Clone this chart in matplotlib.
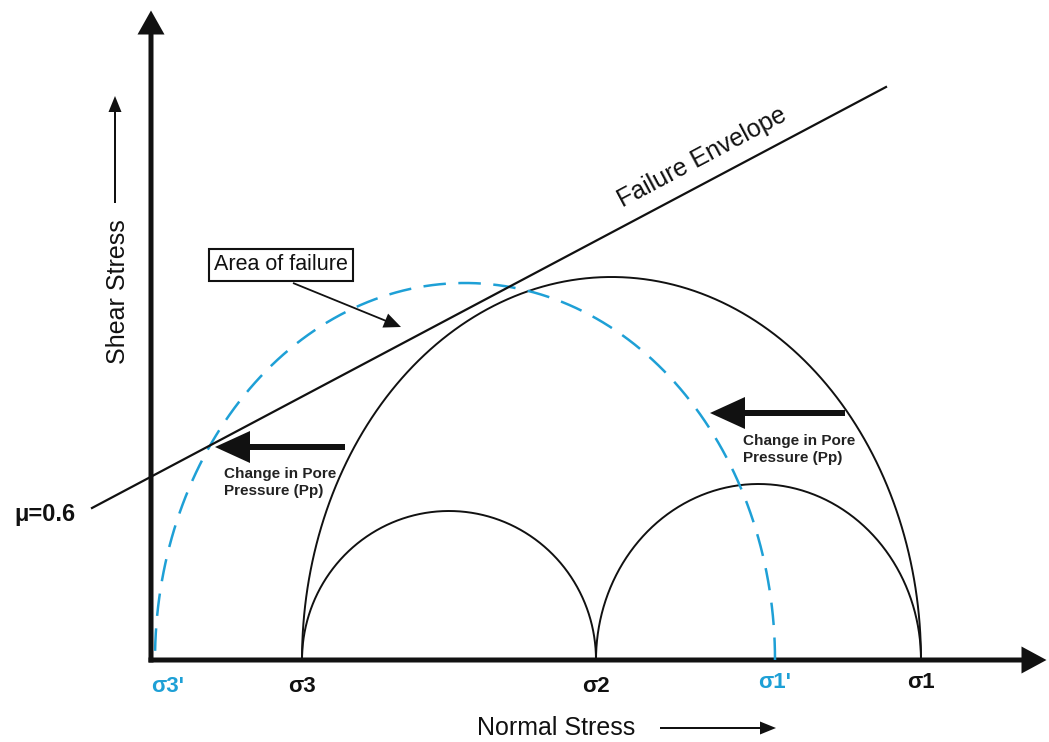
import numpy as np
import matplotlib.pyplot as plt

plt.rcParams['font.family'] = ['Liberation Sans', 'DejaVu Sans']

# principal stresses on the normal stress axis
stress_labels = ["σ3'", "σ3", "σ2", "σ1'", "σ1"]
stress_pos = [4, 151, 445, 624, 770]
stress_blue = [True, False, False, True, False]

# Mohr half circles (left stress, right stress, height)
arc_left = [151, 151, 445]
arc_right = [770, 445, 770]
arc_height = [383, 149, 176]

# circle after change in pore pressure
dash_left = 4
dash_right = 624
dash_height = 377

# failure envelope
env_x = [-59, 735]
env_y = [152, 573]

blue = '#1ea0d6'
dark = '#111111'

fig = plt.figure(figsize=(10.49, 7.42), dpi=100)
ax = fig.add_axes([0, 0, 1, 1])
ax.set_xlim(-151, 898)
ax.set_ylim(-82, 660)
ax.axis('off')


def arrow(x, y, dx, dy, w, hw, hl):
    ax.arrow(x, y, dx, dy, width=w, head_width=hw, head_length=hl,
             length_includes_head=True, color=dark, lw=0)


# axes with arrows
arrow(0, -2.5, 0, 652, 5, 27, 24)
arrow(-2.5, 0, 898, 0, 5, 27, 25)

t = np.linspace(0, np.pi, 400)
for a, b, h in zip(arc_left, arc_right, arc_height):
    c = (a + b) / 2
    r = (b - a) / 2
    ax.plot(c + r * np.cos(t), h * np.sin(t), color=dark, lw=1.4)

c = (dash_left + dash_right) / 2
r = (dash_right - dash_left) / 2
ax.plot(c + r * np.cos(t), dash_height * np.sin(t), color=blue, lw=1.8,
        dashes=(9, 5))

ax.plot(env_x, env_y, color=dark, lw=1.6)

# stress labels
for lab, x, isblue in zip(stress_labels, stress_pos, stress_blue):
    ax.text(x + 13 if lab == "σ3'" else x, -27 if '1' not in lab else -22,
            lab, ha='center', va='center', fontsize=16, fontweight='bold',
            color=blue if isblue else dark)

ax.text(-106, 145, 'μ=0.6', ha='center', va='center', fontsize=17,
        fontweight='bold', color=dark)

ax.text(551, 503, 'Failure Envelope', ha='center', va='center', fontsize=18,
        rotation=28, rotation_mode='anchor', color=dark)

ax.text(130, 395, 'Area of failure', ha='center', va='center', fontsize=15.5,
        color=dark,
        bbox=dict(boxstyle='square,pad=0.25', fc='white', ec=dark, lw=1.5))
arrow(142, 377, 108, -44, 1.8, 15, 17)

# pore pressure arrows
arrow(194, 213, -130, 0, 6, 32, 35)
arrow(694, 247, -135, 0, 6, 32, 35)
ax.text(73, 193, 'Change in Pore\nPressure (Pp)', ha='left', va='top',
        fontsize=11, fontweight='bold', color='#222222', linespacing=1.25)
ax.text(592, 226, 'Change in Pore\nPressure (Pp)', ha='left', va='top',
        fontsize=11, fontweight='bold', color='#222222', linespacing=1.25)

# axis titles
ax.text(405, -68, 'Normal Stress', ha='center', va='center', fontsize=18,
        color=dark)
arrow(509, -68, 116, 0, 2, 13, 16)
ax.text(-33, 368, 'Shear Stress', ha='center', va='center', fontsize=18,
        rotation=90, color=dark)
arrow(-36, 457, 0, 107, 2, 13, 16)

fig.savefig('out.png', dpi=100)
